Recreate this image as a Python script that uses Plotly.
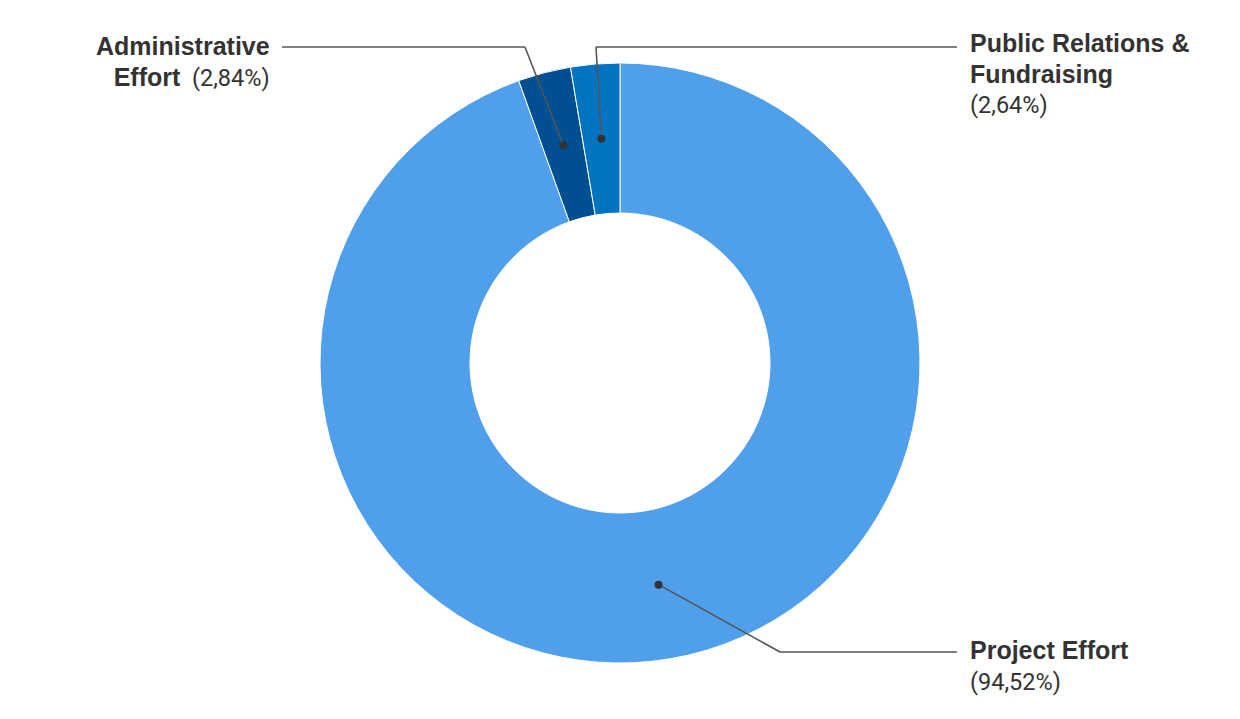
import numpy as np
import plotly.graph_objects as go

labels = ["Project Effort", "Administrative Effort", "Public Relations & Fundraising"]
values = [94.52, 2.84, 2.64]
pct_text = ["(94,52%)", "(2,84%)", "(2,64%)"]
colors = ["#4f9fea", "#004f93", "#0274c2"]

W, H = 1240, 719
cx, cy, R = 620, 363, 300
hole = 0.5

BOLD = '<span style="font-family:Liberation Sans;font-weight:bold;font-size:25px">%s</span>'
label_text = [
    BOLD % "Project Effort" + "<br>" + pct_text[0],
    BOLD % "Administrative" + "<br>" + BOLD % "Effort" + "  " + pct_text[1],
    BOLD % "Public Relations &amp;" + "<br>" + BOLD % "Fundraising" + "<br>" + pct_text[2],
]

# leader line elbows / ends and text anchors (pixels)
elbows = [(780, 652), (525, 47), (596, 47)]
ends = [(957, 652), (282, 47), (957, 47)]
text_pos = [(968, 634, "left"), (272, 30, "right"), (968, 27, "left")]


def px(x, y):
    return x / W, 1 - y / H


fig = go.Figure()
fig.add_trace(go.Pie(
    labels=labels, values=values, hole=hole, sort=False, direction="clockwise",
    rotation=0, marker=dict(colors=colors, line=dict(color="white", width=1)),
    textinfo="none", hoverinfo="label+percent", showlegend=False,
    domain=dict(x=[(cx - R) / W, (cx + R) / W], y=[1 - (cy + R) / H, 1 - (cy - R) / H]),
))

total = sum(values)
start = 0.0
shapes = []
annotations = []
r_mid = R * (1 + hole) / 2
for i, v in enumerate(values):
    mid = (start + v / 2) / total
    start += v
    ang = np.radians(90 - mid * 360)
    dx, dy = cx + r_mid * np.cos(ang), cy - r_mid * np.sin(ang)
    pts = [(dx, dy), elbows[i], ends[i]]
    for a, b in zip(pts[:-1], pts[1:]):
        x0, y0 = px(*a)
        x1, y1 = px(*b)
        shapes.append(dict(type="line", xref="paper", yref="paper", x0=x0, y0=y0, x1=x1, y1=y1,
                           line=dict(color="#555555", width=1.6)))
    x0, y0 = px(dx - 4, dy - 4)
    x1, y1 = px(dx + 4, dy + 4)
    shapes.append(dict(type="circle", xref="paper", yref="paper", x0=x0, y0=y0, x1=x1, y1=y1,
                       fillcolor="#333333", line=dict(width=0)))
    tx, ty, al = text_pos[i]
    ax, ay = px(tx, ty)
    annotations.append(dict(text=label_text[i], x=ax, y=ay, xref="paper", yref="paper",
                            xanchor=al, yanchor="top", align=al, showarrow=False,
                            font=dict(family="Roboto", size=23.5, color="#333333")))

fig.update_layout(
    width=W, height=H, margin=dict(l=0, r=0, t=0, b=0),
    paper_bgcolor="white", plot_bgcolor="white",
    shapes=shapes, annotations=annotations,
)
fig.write_html("out.html", config={"displayModeBar": False},
               post_script="document.body.style.margin='0px';")
